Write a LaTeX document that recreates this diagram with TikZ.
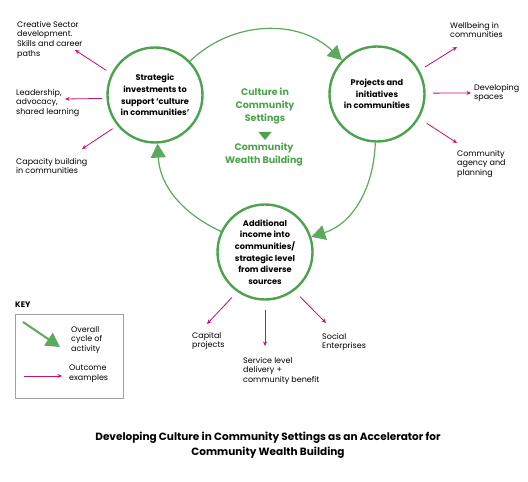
\documentclass[tikz,border=0pt]{standalone}
\usepackage{fontspec}
\setmainfont{Poppins}
\usetikzlibrary{arrows.meta,positioning}

\definecolor{ringgreen}{RGB}{77,163,77}
\definecolor{loopgreen}{RGB}{92,170,92}
\definecolor{outpink}{RGB}{200,16,110}
\definecolor{keygray}{RGB}{160,160,160}

\begin{document}
\begin{tikzpicture}[
    x=1pt, y=1pt,
    hub/.style={circle, draw=ringgreen, line width=2.4pt, minimum size=95pt,
                inner sep=0pt, align=center,
                font=\fontsize{8.2}{11.6}\selectfont\bfseries},
    loopline/.style={draw=loopgreen, line width=1.2pt,
                     -{Triangle[length=14pt,width=15pt]}},
    outc/.style={draw=outpink, line width=0.8pt,
                 -{Stealth[length=4.5pt,width=4pt]}},
    tag/.style={anchor=north west, inner sep=0pt, align=left,
                font=\fontsize{8}{9.7}\selectfont},
    core/.style={align=center, text=ringgreen, inner sep=0pt,
                 font=\fontsize{9.5}{13}\selectfont\bfseries}
]
    \useasboundingbox (0,0) rectangle (528,482);

    % the three stages
    \node[hub] (inv)  at (155,387) {Strategic\\investments to\\support `culture\\in communities'};
    \node[hub] (proj) at (377,388) {Projects and\\initiatives\\in communities};
    \node[hub] (inc)  at (265,230) {Additional\\income into\\communities/\\strategic level\\from diverse\\sources};

    % overall cycle
    \draw[loopline] (inv)  to[out=44, in=136] (proj);
    \draw[loopline] (proj) to[out=-92, in=18] (inc);
    \draw[loopline] (inc)  to[out=155, in=-87] (inv);

    % centre
    \node[core] (culture) at (265,376) {Culture in\\Community\\Settings};
    \node[core] (cwb)     at (264,327) {Community\\Wealth Building};
    \fill[ringgreen] (258.5,350) -- (271.5,350) -- (265,342) -- cycle;

    % outcomes of the investments
    \node[tag] (cs) at (17,461) {Creative Sector\\development.\\Skills and career\\paths};
    \node[tag] (ld) at (16,393) {Leadership,\\advocacy,\\shared learning};
    \node[tag] (cb) at (16,324) {Capacity building\\in communities};
    \coordinate (cs-tip) at (75,432);
    \coordinate (ld-tip) at (65,383);
    \coordinate (cb-tip) at (82,333);
    \draw[outc, shorten <=6pt]   (inv.154) -- (cs-tip);
    \draw[outc, shorten <=4.5pt] (inv.184) -- (ld-tip);
    \draw[outc, shorten <=5.5pt] (inv.219) -- (cb-tip);

    % outcomes of the projects
    \node[tag] (wb) at (450,460) {Wellbeing in\\communities};
    \node[tag] (ds) at (474,398) {Developing\\spaces};
    \node[tag] (ca) at (457,332) {Community\\agency and\\planning};
    \coordinate (wb-tip) at (457,435);
    \coordinate (ds-tip) at (471,389);
    \coordinate (ca-tip) at (457,339);
    \draw[outc, shorten <=6.5pt] (proj.29)  -- (wb-tip);
    \draw[outc, shorten <=7.5pt] (proj.1)   -- (ds-tip);
    \draw[outc, shorten <=9pt]   (proj.-30) -- (ca-tip);

    % outcomes of the income
    \node[tag] (cp) at (192,150) {Capital\\projects};
    \node[tag] (sl) at (243,125) {Service level\\delivery +\\community benefit};
    \node[tag] (se) at (322,149) {Social\\Enterprises};
    \coordinate (cp-tip) at (207,158);
    \coordinate (sl-tip) at (265,136);
    \coordinate (se-tip) at (326,159);
    \draw[outc, shorten <=7.5pt] (inc.235) -- (cp-tip);
    \draw[outc, shorten <=9.5pt] (inc.270) -- (sl-tip);
    \draw[outc, shorten <=8pt]   (inc.-53) -- (se-tip);

    % key
    \node[anchor=north west, inner sep=0pt, font=\fontsize{8}{9}\selectfont\bfseries]
        (keyhead) at (15,180) {KEY};
    \node[draw=keygray, line width=0.8pt, anchor=north west, inner sep=0pt,
          minimum width=108pt, minimum height=84pt] (keybox) at (15,168) {};
    \coordinate (kc-a) at (23,160);
    \coordinate (kc-b) at (60,135);
    \coordinate (ko-a) at (24,106);
    \coordinate (ko-b) at (62,106);
    \draw[loopline, line width=2pt] (kc-a) -- (kc-b);
    \draw[outc] (ko-a) -- (ko-b);
    \node[tag] (kc) at (71,156) {Overall\\cycle of\\activity};
    \node[tag] (ko) at (69,117) {Outcome\\examples};

    % caption
    \node[align=center, inner sep=0pt, font=\fontsize{10.5}{15}\selectfont\bfseries]
        (title) at (268,37) {Developing Culture in Community Settings as an Accelerator for\\Community Wealth Building};
\end{tikzpicture}
\end{document}
